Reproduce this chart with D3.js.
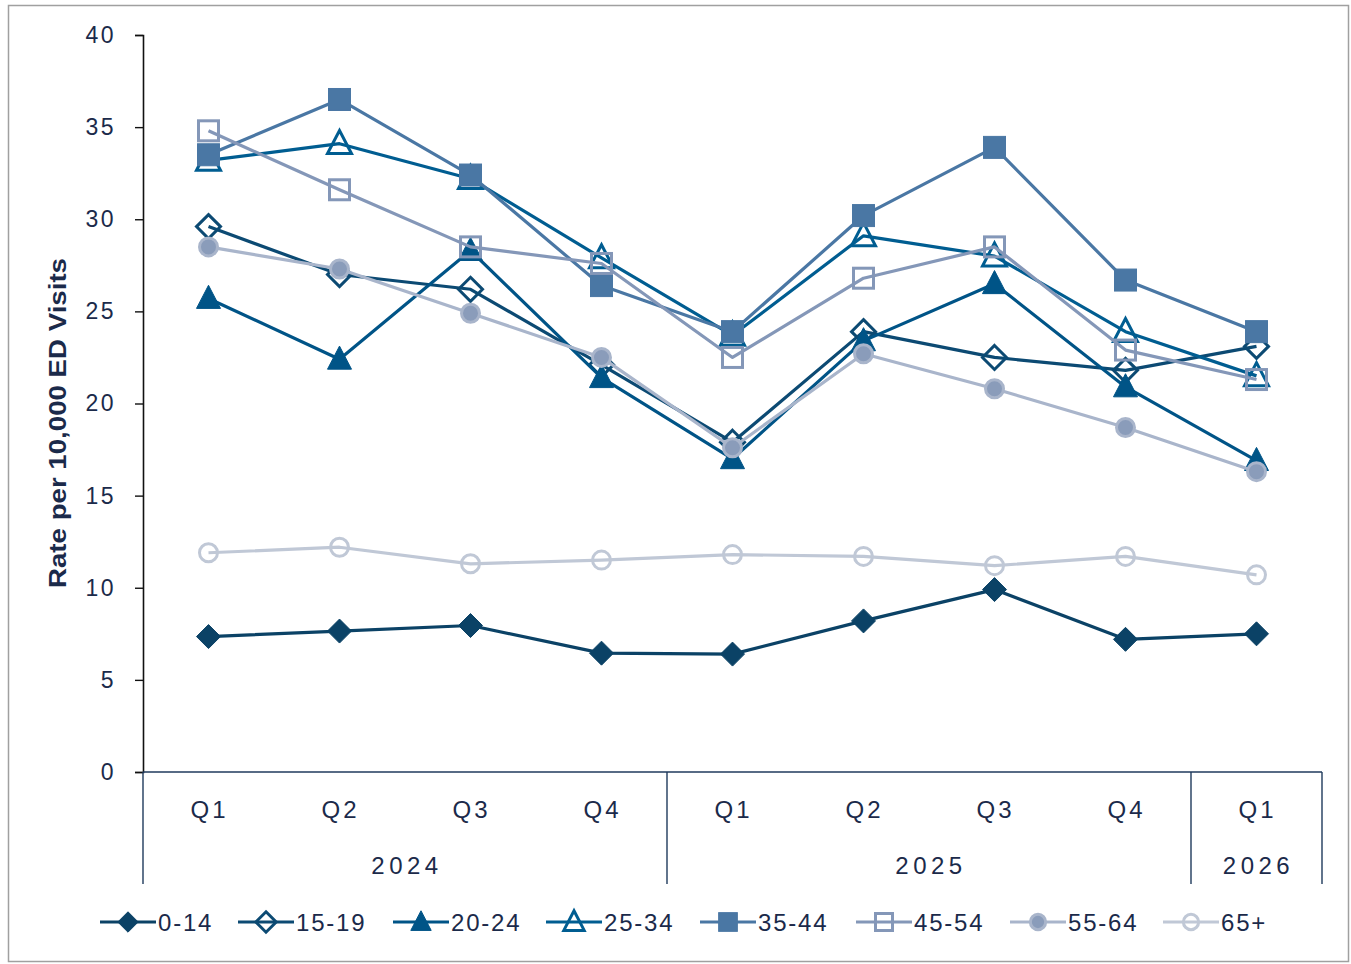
<!DOCTYPE html>
<html><head><meta charset="utf-8">
<script src="https://cdn.jsdelivr.net/npm/d3@7"></script>
<style>body{margin:0;background:#fff;}svg{display:block;}</style>
</head><body>
<svg id="chart" width="1351" height="964"></svg>
<script>
const quarters = ["Q1","Q2","Q3","Q4","Q1","Q2","Q3","Q4","Q1"];
const years = [{label:"2024", from:0, to:4},{label:"2025", from:4, to:8},{label:"2026", from:8, to:9}];
const yTicks = [0,5,10,15,20,25,30,35,40];
const seriesNames = ["0-14","15-19","20-24","25-34","35-44","45-54","55-64","65+"];
const s0_14  = [7.35,7.65,7.95,6.45,6.4,8.2,9.9,7.2,7.5];
const s15_19 = [29.6,27.0,26.2,22.1,17.9,23.9,22.5,21.8,23.1];
const s20_24 = [25.7,22.4,28.3,21.4,17.0,23.4,26.5,20.9,16.9];
const s25_34 = [33.2,34.1,32.2,27.9,23.7,29.1,28.0,23.9,21.5];
const s35_44 = [33.5,36.5,32.4,26.4,23.9,30.2,33.9,26.7,23.9];
const s45_54 = [34.8,31.6,28.5,27.6,22.5,26.8,28.5,22.9,21.3];
const s55_64 = [28.5,27.3,24.9,22.5,17.6,22.7,20.8,18.7,16.3];
const s65p   = [11.9,12.2,11.3,11.5,11.8,11.7,11.2,11.7,10.7];
const seriesValues = [s0_14,s15_19,s20_24,s25_34,s35_44,s45_54,s55_64,s65p];
const colors = ["#0b4266","#0c4a73","#005487","#005d91","#4a77a4","#8497b8","#a9b5cb","#c0c8d6"];
const markers = [
  {shape:"diamond", fill:true},
  {shape:"diamond", fill:false},
  {shape:"triangle", fill:true},
  {shape:"triangle", fill:false},
  {shape:"square", fill:true},
  {shape:"square", fill:false},
  {shape:"circle", fill:true, inner:"#8a9cba"},
  {shape:"circle", fill:false}
];

const svg = d3.select("#chart");
const textColor = "#1b2a4a";
const plot = {left:143, right:1322, top:35, bottom:772};

svg.append("rect").attr("x",8.5).attr("y",5.5).attr("width",1340).attr("height",956)
  .attr("fill","#fff").attr("stroke","#a0a0a0").attr("stroke-width",1.5);

const x = d3.scaleBand().domain(d3.range(quarters.length)).range([plot.left, plot.right]);
const y = d3.scaleLinear().domain([0,40]).range([plot.bottom, plot.top]);

// y axis
const yAxis = svg.append("g").attr("transform",`translate(${plot.left},0)`)
  .call(d3.axisLeft(y).tickValues(yTicks).tickSize(8).tickPadding(19));
yAxis.select(".domain").attr("stroke","#111").attr("stroke-width",1.6);
yAxis.selectAll(".tick line").attr("stroke","#111").attr("stroke-width",1.4);
yAxis.selectAll("text").attr("font-family","'Liberation Sans', Arial, sans-serif")
  .attr("font-size",23).attr("fill",textColor).attr("letter-spacing","2.5px");

svg.append("text").attr("transform",`translate(66,423) rotate(-90)`)
  .attr("text-anchor","middle").attr("font-family","'Liberation Sans Narrow','Liberation Sans',Arial,sans-serif")
  .attr("font-weight","bold").attr("font-size",23).attr("fill",textColor)
  .attr("textLength",330).attr("lengthAdjust","spacingAndGlyphs")
  .text("Rate per 10,000 ED Visits");

// x axis
const xAxisColor = "#1f3a5c";
svg.append("line").attr("x1",plot.left).attr("x2",plot.right).attr("y1",plot.bottom).attr("y2",plot.bottom)
  .attr("stroke",xAxisColor).attr("stroke-width",1.6);
const seps = [0,4,8,9];
svg.selectAll(".sep").data(seps).join("line").attr("class","sep")
  .attr("x1",d=> d===quarters.length ? x.range()[1] : x(d)).attr("x2",d=> d===quarters.length ? x.range()[1] : x(d))
  .attr("y1",plot.bottom).attr("y2",884).attr("stroke",xAxisColor).attr("stroke-width",1.4);
svg.selectAll(".qlab").data(quarters).join("text").attr("class","qlab")
  .attr("x",(d,i)=>x(i)+x.bandwidth()/2+1).attr("y",818).attr("text-anchor","middle")
  .attr("font-family","'Liberation Sans', Arial, sans-serif").attr("font-size",24).attr("fill",textColor)
  .attr("letter-spacing","3px").text(d=>d);
svg.selectAll(".ylab").data(years).join("text").attr("class","ylab")
  .attr("x",d=>(x(d.from)+ (d.to===quarters.length? x.range()[1] : x(d.to)))/2+2).attr("y",874).attr("text-anchor","middle")
  .attr("font-family","'Liberation Sans', Arial, sans-serif").attr("font-size",24).attr("fill",textColor)
  .attr("letter-spacing","4.5px").text(d=>d.label);

function drawMarker(g, m, color, cx, cy, scale){
  const s = scale||1;
  if(m.shape==="diamond"){
    const r = 12*s;
    g.append("path").attr("d",`M${cx},${cy-r}L${cx+r},${cy}L${cx},${cy+r}L${cx-r},${cy}Z`)
      .attr("fill",m.fill?color:"none").attr("stroke",color).attr("stroke-width",m.fill?1:3);
  } else if(m.shape==="triangle"){
    const h = 22*s, w = 24*s;
    g.append("path").attr("d",`M${cx},${cy-h*0.6}L${cx+w/2},${cy+h*0.45}L${cx-w/2},${cy+h*0.45}Z`)
      .attr("fill",m.fill?color:"none").attr("stroke",color).attr("stroke-width",m.fill?1:3).attr("stroke-linejoin","miter");
  } else if(m.shape==="square"){
    const a = m.fill?22*s:20*s;
    g.append("rect").attr("x",cx-a/2).attr("y",cy-a/2).attr("width",a).attr("height",a)
      .attr("fill",m.fill?color:"none").attr("stroke",color).attr("stroke-width",m.fill?1:3);
  } else {
    const r = 9*s;
    g.append("circle").attr("cx",cx).attr("cy",cy).attr("r",r)
      .attr("fill",m.fill?(m.inner||color):"none").attr("stroke",color).attr("stroke-width",3);
  }
}

const line = d3.line().x((d,i)=>x(i)+x.bandwidth()/2).y(d=>y(d));
seriesValues.forEach((vals,si)=>{
  const g = svg.append("g");
  g.append("path").datum(vals).attr("d",line).attr("fill","none").attr("stroke",colors[si]).attr("stroke-width",3.2)
    .attr("stroke-linejoin","round");
  vals.forEach((v,i)=> drawMarker(g, markers[si], colors[si], x(i)+x.bandwidth()/2, y(v)));
});

// legend
const legendX = [100,238,393,546,700,856,1010,1163];
const ly = 922;
seriesNames.forEach((name,si)=>{
  const g = svg.append("g");
  const x0 = legendX[si];
  g.append("line").attr("x1",x0).attr("x2",x0+56).attr("y1",ly).attr("y2",ly).attr("stroke",colors[si]).attr("stroke-width",3.2);
  drawMarker(g, markers[si], colors[si], x0+28, ly, 0.85);
  g.append("text").attr("x",x0+58).attr("y",ly+9).attr("font-family","'Liberation Sans', Arial, sans-serif")
    .attr("font-size",24).attr("fill",textColor).attr("letter-spacing","1.8px").text(name);
});
</script>
</body></html>
